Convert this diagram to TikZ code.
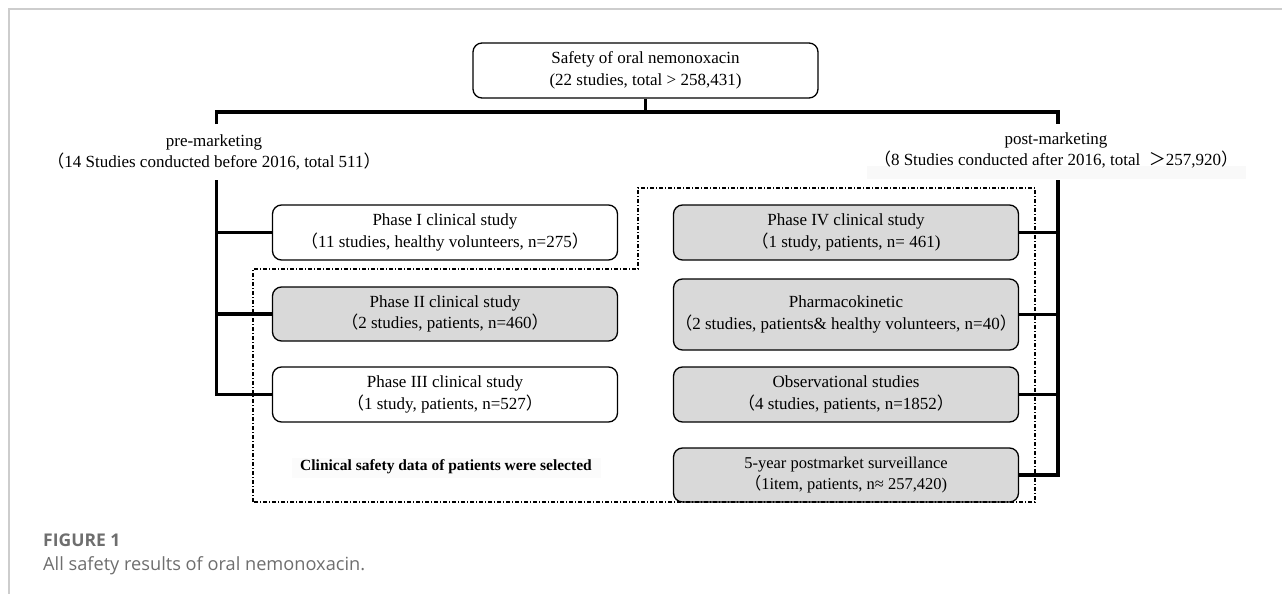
\documentclass[tikz,border=0pt]{standalone}
\usepackage{fontspec}
\setmainfont{Liberation Serif}
\newfontfamily\cjk{Noto Sans CJK SC}
\newfontfamily\capfont{Open Sans}
\newcommand{\lpar}{{\cjk （}}
\newcommand{\rpar}{{\cjk ）}}
\newcommand{\fwgt}{{\cjk ＞}}
\definecolor{boxgray}{RGB}{217,217,217}
\definecolor{framegray}{RGB}{205,205,205}
\definecolor{capgray}{RGB}{110,110,110}
\tikzset{
  box/.style={draw, line width=1.3pt, rounded corners=9pt, align=center,
    minimum width=345pt, minimum height=55pt, inner sep=0pt,
    font=\fontsize{17}{21.5}\selectfont},
  greybox/.style={box, fill=boxgray},
  lbl/.style={align=center, inner sep=0pt, font=\fontsize{17}{21}\selectfont},
  conn/.style={line width=3.8pt, line join=miter},
  sel/.style={line width=1.2pt, dash pattern=on 4pt off 2pt on 1pt off 2pt},
  frameline/.style={draw=framegray, line width=1.5pt}
}
\begin{document}
\begin{tikzpicture}[x=1pt,y=-1pt]
\useasboundingbox (0,0) rectangle (1282,594);
% page frame
\draw[frameline] (9,594) -- (9,9) -- (1282,9);
% faint highlight bands
\fill[gray!5] (867,166) rectangle (1246,179);
\fill[gray!3] (292,458) rectangle (601,478);
% top node
\node[box, minimum height=55pt] (top) at (645.5,70.5) {Safety of oral nemonoxacin\\(22 studies, total > 258,431)};
% branch labels
\node[lbl] (pre) at (214,152.5) {pre-marketing\\\lpar 14 Studies conducted before 2016, total 511\rpar};
\node[lbl] (post) at (1056,150.5) {post-marketing\\\lpar 8 Studies conducted after 2016, total\ \ \fwgt257,920\rpar};
% left column
\node[box] (p1) at (445,232.5) {Phase I clinical study\\\lpar 11 studies, healthy volunteers, n=275\rpar};
\node[greybox, minimum height=54pt] (p2) at (445,314) {Phase II clinical study\\\lpar 2 studies, patients, n=460\rpar};
\node[box] (p3) at (445,394.5) {Phase III clinical study\\\lpar 1 study, patients, n=527\rpar};
% right column
\node[greybox] (p4) at (846,232.5) {Phase IV clinical study\\\lpar 1 study, patients, n= 461)};
\node[greybox, minimum height=71pt] (pk) at (846,314.5) {Pharmacokinetic\\\lpar 2 studies, patients\& healthy volunteers, n=40\rpar};
\node[greybox] (obs) at (846,394.5) {Observational studies\\\lpar 4 studies, patients, n=1852\rpar};
\node[greybox, minimum height=54pt, font=\fontsize{16.5}{21}\selectfont] (fy) at (846,475) {5-year postmarket surveillance\\\lpar 1item, patients, n≈ 257,420)};
% selection note
\node[inner sep=0pt, font=\bfseries\fontsize{15.5}{19}\selectfont] (note) at (446,467) {Clinical safety data of patients were selected};
% tree coordinates
\coordinate (barL) at (216.5,112);
\coordinate (barR) at (1058,112);
\coordinate (preTop) at (216.5,124);
\coordinate (preBot) at (216.5,180);
\coordinate (postTop) at (1058,124);
\coordinate (postBot) at (1058,180);
% trunk and bar
\draw[conn] (top.south) -- (top.south |- barL);
\draw[conn] (preTop) -- (barL) -- (barR) -- (postTop);
% left branch
\draw[conn] (preBot) -- (p3.west -| preBot) -- (p3.west);
\draw[conn] (p1.west -| preBot) -- (p1.west);
\draw[conn] (p2.west -| preBot) -- (p2.west);
% right branch
\draw[conn] (postBot) -- (fy.east -| postBot) -- (fy.east);
\draw[conn] (p4.east -| postBot) -- (p4.east);
\draw[conn] (pk.east -| postBot) -- (pk.east);
\draw[conn] (obs.east -| postBot) -- (obs.east);
% selection frame
\draw[sel] (253,502) -- (253,269) -- (638,269) -- (638,188) -- (1035,188) -- (1035,502) -- cycle;
% caption
\node[anchor=base west, inner sep=0pt, text=capgray, font=\capfont\bfseries\fontsize{17.5}{20}\selectfont] (figlbl) at (43,546) {FIGURE 1};
\node[anchor=base west, inner sep=0pt, text=capgray, font=\capfont\fontsize{18.2}{21}\selectfont] (cap) at (43,570) {All safety results of oral nemonoxacin.};
\end{tikzpicture}
\end{document}
